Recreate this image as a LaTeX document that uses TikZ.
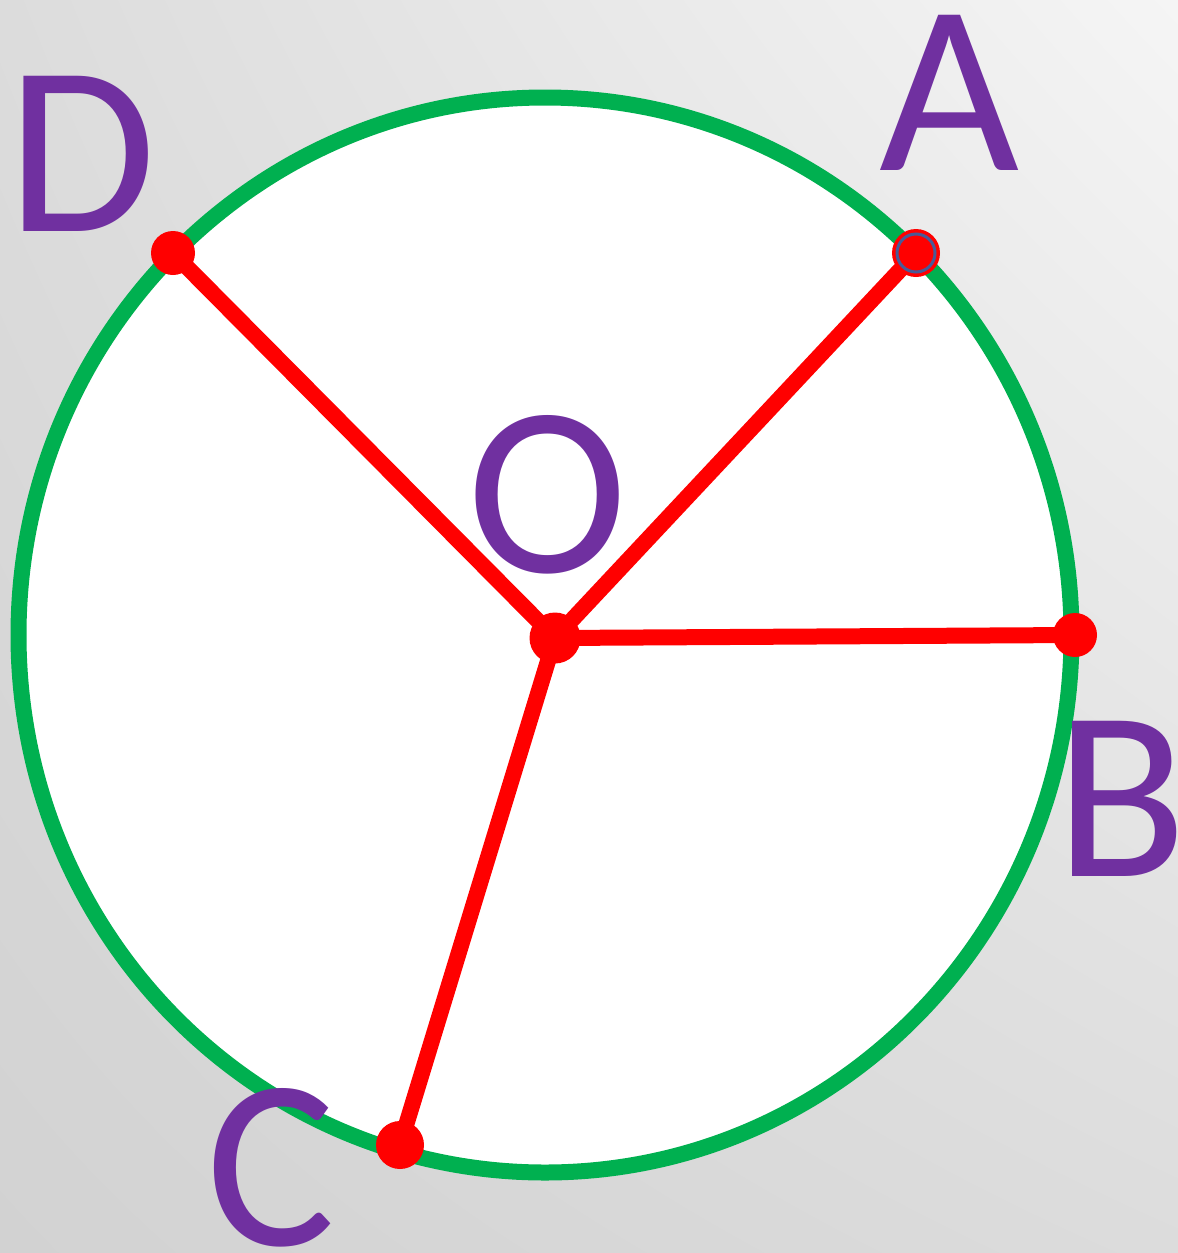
\documentclass[tikz,border=0pt]{standalone}
\usepackage{fontspec}
\setmainfont{Carlito}
\usepackage{tikz}
\usetikzlibrary{positioning,calc,shadings}
\definecolor{Rim}{HTML}{00B050}
\definecolor{Spoke}{HTML}{FF0000}
\definecolor{Letter}{HTML}{7030A0}
\definecolor{Ring}{HTML}{4A5A96}
\definecolor{BgLight}{HTML}{F5F5F5}
\definecolor{BgMid}{HTML}{DCDCDC}
\definecolor{BgDark}{HTML}{D2D2D2}
\begin{document}
\begin{tikzpicture}[x=0.5pt,y=-0.5pt,
    lbl/.style={color=Letter,inner sep=0pt,font=\fontsize{121}{121}\selectfont},
    dot/.style={fill=Spoke}]
  \useasboundingbox (0,0) rectangle (1178,1253);
  \shade[lower left=BgDark,upper right=BgLight,upper left=BgMid,lower right=BgMid]
    (0,0) rectangle (1178,1253);
  % circle and centre
  \draw[Rim,line width=8pt,fill=white] (545,635) ellipse (526.5 and 537.5);
  \coordinate (O) at (555,638);
  \coordinate (A) at (916,253);
  \coordinate (B) at (1075,635);
  \coordinate (C) at (400,1145);
  \coordinate (D) at (173,253);
  \foreach \p in {A,B,C,D}
    \draw[Spoke,line width=8pt] (O) -- (\p);
  \fill[dot] (O) circle (25.5);
  \foreach \p/\r in {A/24,B/22,C/24,D/22}
    \fill[dot] (\p) circle (\r);
  \draw[Ring,line width=1.5pt] (A) circle (19);
  % letters
  \node[lbl] (labA) at (950,93) {A};
  \node[lbl] (labB) at (1121,799) {B};
  \node[lbl] (labC) at (271,1168) {C};
  \node[lbl] (labD) at (82,154) {D};
  \node[lbl] (labO) at (548,495) {O};
\end{tikzpicture}
\end{document}
